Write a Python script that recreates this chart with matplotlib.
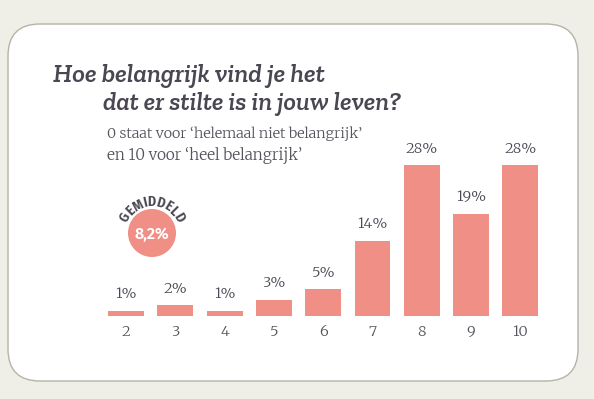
import numpy as np
import matplotlib
matplotlib.use("Agg")
import matplotlib.pyplot as plt
from matplotlib.patches import FancyBboxPatch, Circle

# ---- data ----
categories = ["2", "3", "4", "5", "6", "7", "8", "9", "10"]
percentages = [1, 2, 1, 3, 5, 14, 28, 19, 28]
value_labels = ["1%", "2%", "1%", "3%", "5%", "14%", "28%", "19%", "28%"]
mean_label = "8,2%"
title_lines = ["Hoe belangrijk vind je het", "dat er stilte is in jouw leven?"]
subtitle_lines = ["0 staat voor \u2018helemaal niet belangrijk\u2019", "en 10 voor \u2018heel belangrijk\u2019"]
badge_word = "GEMIDDELD"

W, H = 594, 399
BG = "#efefe8"
BAR = "#f08f86"
TXT = "#4a4752"
SUB = "#55535c"

TITLE_FONT = ["Zilla Slab", "DejaVu Serif"]
SUB_FONT = ["Merriweather", "DejaVu Serif"]
LAB_FONT = ["Merriweather", "DejaVu Serif"]
BADGE_FONT = ["Fira Sans Extra Condensed", "DejaVu Sans"]

fig = plt.figure(figsize=(W / 100, H / 100), dpi=100, facecolor=BG)
renderer = fig.canvas.get_renderer()

ov = fig.add_axes([0, 0, 1, 1], zorder=0)
ov.set_xlim(0, W)
ov.set_ylim(H, 0)
ov.axis("off")


def fit_text(x, y, s, target_w, size, **kw):
    t = ov.text(x, y, s, fontsize=size, ha="left", va="baseline", **kw)
    for _ in range(3):
        w = t.get_window_extent(renderer).width
        size *= target_w / w
        t.set_fontsize(size)
    return t


box = FancyBboxPatch((8, 24), 570, 357, boxstyle="round,pad=0,rounding_size=32",
                     facecolor="white", edgecolor="#b4b4aa", linewidth=1.0)
ov.add_patch(box)

fit_text(53, 82, title_lines[0], 272, 18, family=TITLE_FONT, style="italic",
         weight="semibold", color=TXT)
fit_text(103, 110, title_lines[1], 298, 18, family=TITLE_FONT, style="italic",
         weight="semibold", color=TXT)

fit_text(107, 138, subtitle_lines[0], 255, 10, family=SUB_FONT, weight="light", color=SUB)
fit_text(107, 160, subtitle_lines[1], 195, 10, family=SUB_FONT, weight="light", color=SUB)

# average badge
cx, cy, r = 152, 233, 24
ov.add_patch(Circle((cx, cy), r, facecolor=BAR, edgecolor="none"))
ov.text(cx, cy + 1, mean_label, fontsize=11.5, family=["Fira Sans", "DejaVu Sans"], weight="semibold",
        color="white", ha="center", va="center")

# letters along an arc, spaced by their widths
rr = 31
bsize = 11
tmp = [ov.text(0, 0, ch, fontsize=bsize, family=BADGE_FONT, weight="semibold") for ch in badge_word]
widths = np.array([t.get_window_extent(renderer).width for t in tmp]) + 1.6
for t in tmp:
    t.remove()
reff = rr + 3
total = widths.sum()
span_deg = np.rad2deg(total / reff)
cum = np.cumsum(widths) - widths / 2
angs = -span_deg / 2 + np.rad2deg(cum / reff)
for ch, a in zip(badge_word, angs):
    t = np.deg2rad(a)
    x = cx + rr * np.sin(t)
    y = cy - rr * np.cos(t)
    ov.text(x, y, ch, fontsize=bsize, family=BADGE_FONT, weight="semibold",
            color=TXT, ha="center", va="center", rotation=-a, rotation_mode="anchor")

# bar axes positioned in pixels
x0_px, x1_px = 100, 555
step = 49.3
c0 = 126
xl = ((x0_px - c0) / step, (x1_px - c0) / step)
base_px = H - 316
ppp = 151 / 28.0
ymax = 32
ax = fig.add_axes([x0_px / W, base_px / H, (x1_px - x0_px) / W, ymax * ppp / H], zorder=1)
ax.patch.set_alpha(0)
pos = np.arange(len(categories))
ax.bar(pos, percentages, width=0.73, color=BAR)
ax.set_xlim(*xl)
ax.set_ylim(0, ymax)
for s in ax.spines.values():
    s.set_visible(False)
ax.set_yticks([])
ax.set_xticks(pos)
ax.set_xticklabels(categories, family=SUB_FONT, fontsize=10.5, color=SUB, weight="light")
ax.tick_params(axis="x", length=0, pad=6)
for p, v, lab in zip(pos, percentages, value_labels):
    ax.annotate(lab, (p, v), xytext=(0, 12), textcoords="offset points",
                ha="center", va="center", fontsize=10.5, family=LAB_FONT,
                weight="normal", color=TXT)

fig.savefig("out.png", dpi=100, facecolor=BG)
